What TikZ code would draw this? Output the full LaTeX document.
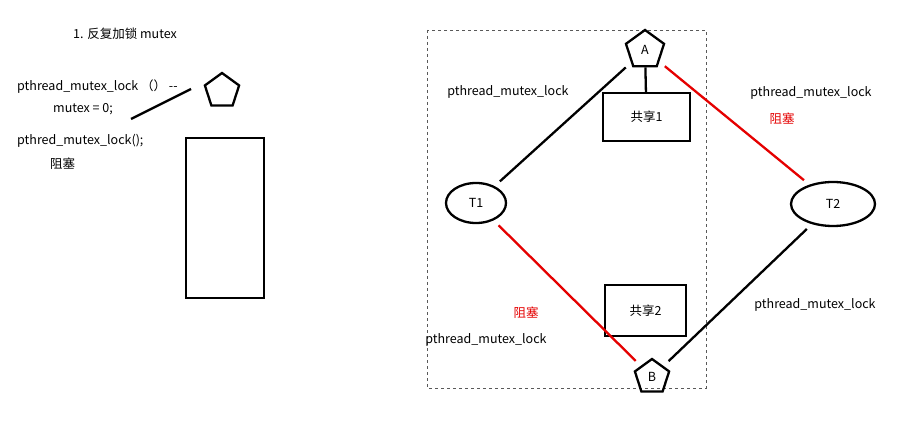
\documentclass[tikz,border=0pt]{standalone}
\usepackage{fontspec}
\setmainfont{Noto Sans CJK SC}
\usetikzlibrary{shapes.geometric}
\begin{document}
\begin{tikzpicture}[x=1pt,y=-1pt,
  txt/.style={font=\fontsize{12.5}{14}\selectfont,inner sep=0pt},
  redtxt/.style={txt,text=red!90!black},
  pent/.style={draw,line width=2.3pt,regular polygon,regular polygon sides=5,minimum size=38pt,inner sep=0pt,font=\fontsize{12.5}{14}\selectfont},
  box/.style={draw,line width=2.3pt,inner sep=0pt,font=\fontsize{12.5}{14}\selectfont},
  ell/.style={draw,line width=2.3pt,ellipse,inner sep=0pt,font=\fontsize{12.5}{14}\selectfont},
  bl/.style={line width=2.3pt,shorten <=7pt,shorten >=7pt},
  rl/.style={bl,red!90!black}]
\useasboundingbox[fill=white] (0,0) rectangle (909,427);
% left part
\node[txt] (title) at (125,34) {1. 反复加锁 mutex};
\node[txt,anchor=west] (l1) at (17,87) {pthread\_mutex\_lock （） {-}{-}};
\node[txt,anchor=west] (l2) at (53,109) {mutex = 0;};
\node[txt,anchor=west] (l3) at (17,141) {pthred\_mutex\_lock();};
\node[txt,anchor=west] (l4) at (50,164) {阻塞};
\node[pent,minimum size=36pt] (p0) at (222,91) {};
\coordinate (s0) at (191,89);
\coordinate (s1) at (131,119);
\draw[line width=2.3pt] (s0) -- (s1);
\node[box,minimum width=78pt,minimum height=160pt] (r0) at (225,218) {};
% right part
\draw[dashed,gray!70!black,line width=0.8pt] (427,30) rectangle (706,388);
\node[pent,minimum size=40pt] (A) at (645,50) {A};
\node[pent,minimum size=36pt] (B) at (652,377) {B};
\node[box,minimum width=87pt,minimum height=48pt] (S1) at (646.5,117) {共享1};
\node[box,minimum width=81pt,minimum height=51pt] (S2) at (645.5,310.5) {共享2};
\node[ell,minimum width=60pt,minimum height=40pt] (T1) at (476,203) {T1};
\node[ell,minimum width=84pt,minimum height=44pt] (T2) at (833,204) {T2};
\draw[line width=2.3pt] (A) -- (S1);
\draw[bl] (T1) -- (A);
\draw[rl] (A) -- (T2);
\draw[bl] (T2) -- (B);
\draw[rl] (T1) -- (B);
\node[txt] (la) at (508,92) {pthread\_mutex\_lock};
\node[txt] (lb) at (811,93) {pthread\_mutex\_lock};
\node[redtxt] (lc) at (782,119) {阻塞};
\node[txt] (ld) at (815,305) {pthread\_mutex\_lock};
\node[txt] (le) at (486,340) {pthread\_mutex\_lock};
\node[redtxt] (lf) at (526,313) {阻塞};
\end{tikzpicture}
\end{document}
